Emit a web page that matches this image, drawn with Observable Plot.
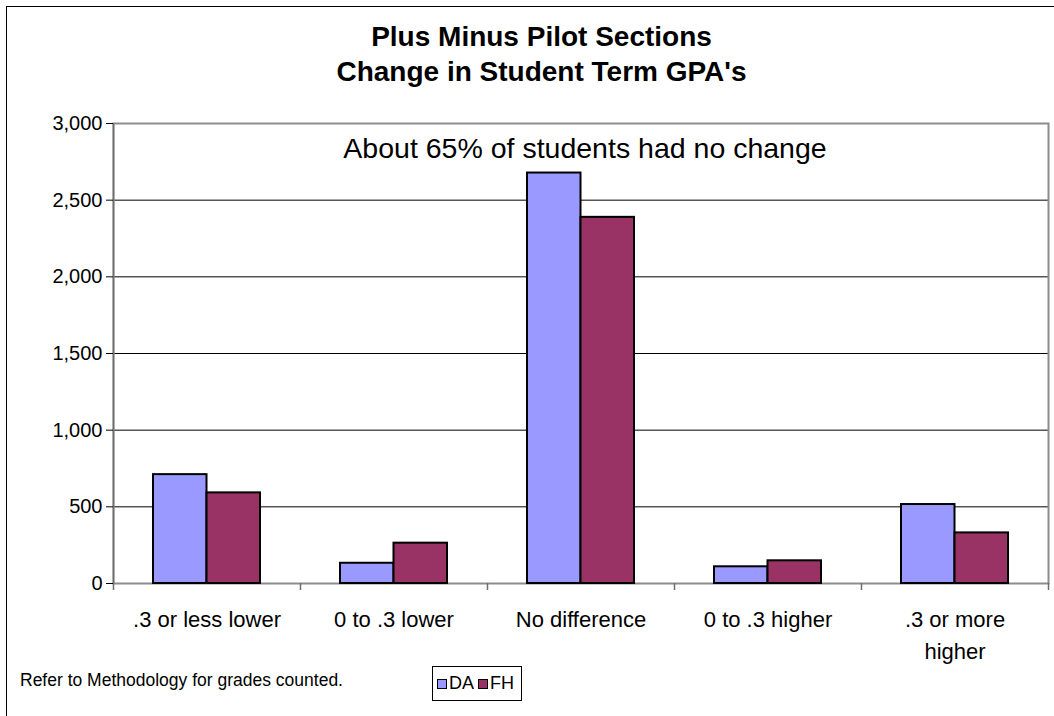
<!DOCTYPE html>
<html>
<head>
<meta charset="utf-8">
<script src="https://cdn.jsdelivr.net/npm/d3@7"></script>
<script src="https://cdn.jsdelivr.net/npm/@observablehq/plot@0.6"></script>
<style>
  html, body { margin: 0; padding: 0; background: #fff; overflow: hidden; }
  body { font-family: "Liberation Sans", Arial, sans-serif; color: #000; }
  #wrap { position: relative; width: 1054px; height: 716px; overflow: hidden; }
  #wrap svg { position: absolute; left: 0; top: 0; }
  #outer { position: absolute; left: 6px; top: 6px; width: 1200px; height: 900px; border: 1.5px solid #000; box-sizing: border-box; }
  #title { position: absolute; left: 0; top: 19px; width: 1083px; text-align: center; font-weight: bold; font-size: 28px; line-height: 35px; }
  #foot { position: absolute; left: 20px; top: 671px; font-size: 17.5px; line-height: 18px; white-space: nowrap; }
  #legend { position: absolute; left: 432px; top: 666px; width: 90px; height: 35px; border: 1px solid #000; box-sizing: border-box; background: #fff;
            display: flex; align-items: center; justify-content: flex-start; padding-left: 4px; font-size: 18px; }
  .sw { width: 8px; height: 8px; border: 1.5px solid #000; display: inline-block; margin-right: 2px; }
  .item { display: flex; align-items: center; margin-right: 4px; }
</style>
</head>
<body>
<div id="wrap">
  <div id="outer"></div>
  <div id="title"></div>
  <div id="foot"></div>
  <div id="legend"></div>
</div>
<script>
// ---- data ----
const categories = [".3 or less lower", "0 to .3 lower", "No difference", "0 to .3 higher", ".3 or more higher"];
const tickLabels = [".3 or less lower", "0 to .3 lower", "No difference", "0 to .3 higher", ".3 or more\nhigher"];
const seriesNames = ["DA", "FH"];
const seriesColors = ["#9999FF", "#993366"];
const valuesDA = [710, 132, 2677, 109, 515];
const valuesFH = [591, 263, 2388, 148, 330];
const yTicks = [0, 500, 1000, 1500, 2000, 2500, 3000];
const titleLines = ["Plus Minus Pilot Sections", "Change in Student Term GPA's"];
const noteText = "About 65% of students had no change";
const noteCategory = "No difference";
const footnote = "Refer to Methodology for grades counted.";

const rows = categories.map((c, i) => ({category: c, DA: valuesDA[i], FH: valuesFH[i]}));

const half = 187 / 2;

const chart = Plot.plot({
  width: 1054,
  height: 716,
  marginLeft: 113,
  marginRight: 6,
  marginTop: 123,
  marginBottom: 133,
  style: {fontFamily: "'Liberation Sans', Arial, sans-serif", fontSize: "20px", color: "#000", background: "transparent", overflow: "visible"},
  x: {type: "band", domain: categories, padding: 0},
  y: {domain: [0, 3000]},
  marks: [
    Plot.gridY(yTicks.filter(d => d > 0 && d < 3000), {stroke: "#000", strokeOpacity: 1, strokeWidth: 1}),
    Plot.frame({stroke: "#8c8c8c", strokeWidth: 2}),
    Plot.ruleX([categories[0]], {x: d => d, dx: -half, stroke: "#6e6e6e", strokeWidth: 1.5}),
    Plot.barY(rows, {x: "category", y: "DA", insetLeft: 40, insetRight: half, fill: seriesColors[0], stroke: "#000", strokeWidth: 2}),
    Plot.barY(rows, {x: "category", y: "FH", insetLeft: half, insetRight: 40, fill: seriesColors[1], stroke: "#000", strokeWidth: 2}),
    Plot.ruleX(categories, {x: d => d, dx: -half, y1: 0, y2: 0, insetTop: 7, stroke: "#6e6e6e", strokeWidth: 1.5}),
    Plot.ruleX([categories[categories.length - 1]], {x: d => d, dx: half, y1: 0, y2: 0, insetTop: 7, stroke: "#6e6e6e", strokeWidth: 1.5}),
    Plot.axisY({ticks: yTicks, tickFormat: d3.format(","), tickSize: 7, tickPadding: 4, fontSize: 20, label: null, stroke: "#000"}),
    Plot.axisX({tickSize: 0, tickPadding: 21, fontSize: 22, lineHeight: 1.45, label: null,
                tickFormat: d => tickLabels[categories.indexOf(d)]}),
    Plot.text([noteText], {x: () => noteCategory, text: d => d, frameAnchor: "top", lineAnchor: "bottom", dy: 34, dx: 4, fontSize: 28.5, fill: "#000"})
  ]
});
document.getElementById("wrap").appendChild(chart);

document.getElementById("title").innerHTML = titleLines.join("<br>");
document.getElementById("foot").textContent = footnote;
const legend = document.getElementById("legend");
seriesNames.forEach((n, i) => {
  const it = document.createElement("span");
  it.className = "item";
  const sw = document.createElement("span");
  sw.className = "sw";
  sw.style.background = seriesColors[i];
  it.appendChild(sw);
  it.appendChild(document.createTextNode(n));
  legend.appendChild(it);
});
</script>
</body>
</html>
